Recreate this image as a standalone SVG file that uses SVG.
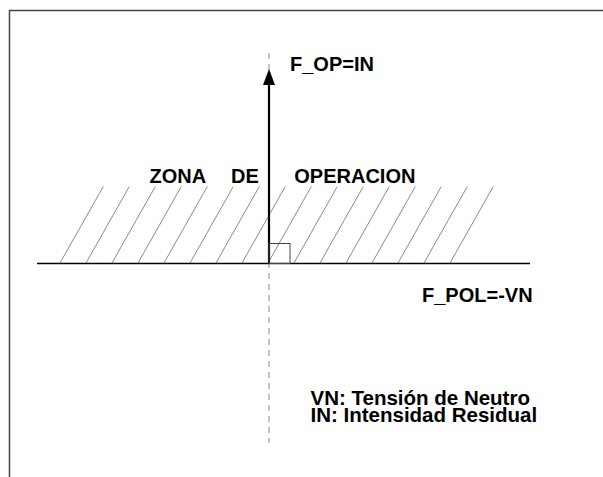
<svg xmlns="http://www.w3.org/2000/svg" width="603" height="477" viewBox="0 0 603 477">
<style>
.t{font-family:"Liberation Sans",Arial,sans-serif;font-weight:bold;font-size:20px;fill:#000}
.h{stroke:#8c8c8c;stroke-width:1;fill:none}
</style>
<rect width="603" height="477" fill="#fff"/>
<path d="M9.5,477 V10.5 H603" fill="none" stroke="#444" stroke-width="1.5"/>
<g id="hatch">
<line class="h" x1="60" y1="263" x2="103.3" y2="186.5"/>
<line class="h" x1="86" y1="263" x2="129.3" y2="186.5"/>
<line class="h" x1="112" y1="263" x2="155.3" y2="186.5"/>
<line class="h" x1="138" y1="263" x2="181.3" y2="186.5"/>
<line class="h" x1="164" y1="263" x2="207.3" y2="186.5"/>
<line class="h" x1="190" y1="263" x2="233.3" y2="186.5"/>
<line class="h" x1="216" y1="263" x2="259.3" y2="186.5"/>
<line class="h" x1="242" y1="263" x2="285.3" y2="186.5"/>
<line class="h" x1="268" y1="263" x2="311.3" y2="186.5"/>
<line class="h" x1="294" y1="263" x2="337.3" y2="186.5"/>
<line class="h" x1="320" y1="263" x2="363.3" y2="186.5"/>
<line class="h" x1="346" y1="263" x2="389.3" y2="186.5"/>
<line class="h" x1="372" y1="263" x2="415.3" y2="186.5"/>
<line class="h" x1="398" y1="263" x2="441.3" y2="186.5"/>
<line class="h" x1="424" y1="263" x2="467.3" y2="186.5"/>
<line class="h" x1="450" y1="263" x2="493.3" y2="186.5"/>
</g>
<g id="connectors">
<line x1="269" y1="53" x2="269" y2="443" stroke="#888" stroke-width="1" stroke-dasharray="6 5"/>
<line x1="37" y1="263.5" x2="530" y2="263.5" stroke="#000" stroke-width="1.6"/>
<line x1="269" y1="263.5" x2="269" y2="82" stroke="#000" stroke-width="2.2"/>
<polygon points="269,69 263,85 275,85" fill="#000"/>
<rect x="269" y="243.5" width="21" height="20" fill="none" stroke="#444" stroke-width="1"/>
</g>
<g id="labels">
<text class="t" x="290" y="71">F_OP=IN</text>
<text class="t" x="149.5" y="183.3">ZONA</text>
<text class="t" x="231" y="183.3">DE</text>
<text class="t" x="294.3" y="183.3">OPERACION</text>
<text class="t" x="422" y="302">F_POL=-VN</text>
<text class="t" style="font-size:20.5px" x="310.5" y="405">VN: Tensión de Neutro<tspan x="310.5" dy="17">IN: Intensidad Residual</tspan></text>
</g>
</svg>
